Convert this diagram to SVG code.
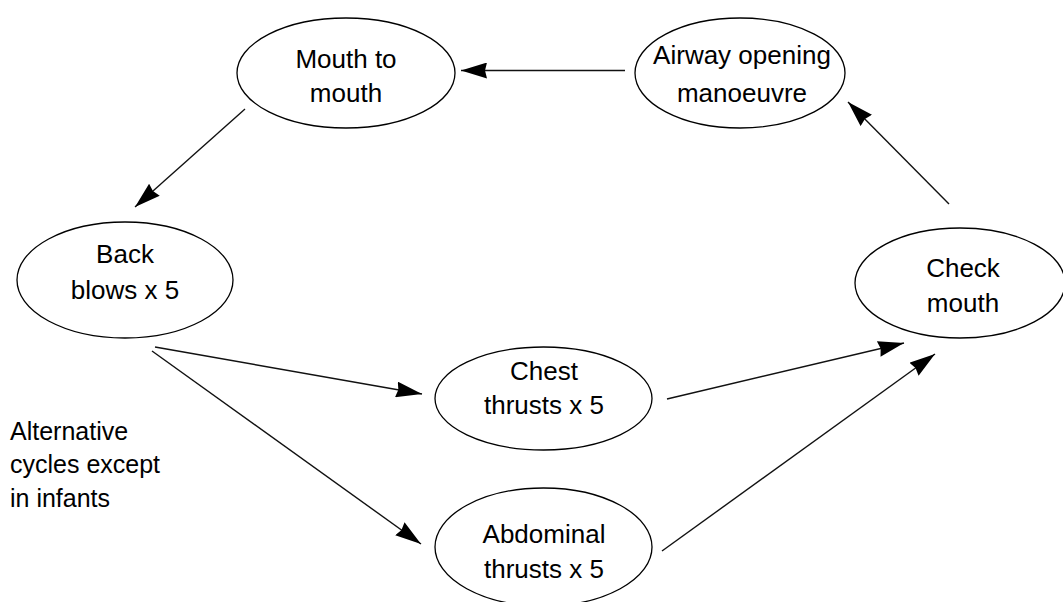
<svg xmlns="http://www.w3.org/2000/svg" width="1063" height="602" viewBox="0 0 1063 602">
  <style>
    .node ellipse { fill: #ffffff; stroke: #000000; stroke-width: 1.3; }
    .node text, .label { font-family: "Liberation Sans", Arial, Helvetica, sans-serif; font-size: 26px; fill: #000000; }
    .node text { text-anchor: middle; }
    .label { font-size: 25px; }
    .edge { stroke: #111111; stroke-width: 1.4; fill: none; marker-end: url(#arrow); }
  </style>
  <defs>
    <marker id="arrow" viewBox="0 0 26 16" refX="26" refY="8" markerWidth="26" markerHeight="16" markerUnits="userSpaceOnUse" orient="auto">
      <path d="M0,0 L26,8 L0,16 L2,8 z" fill="#000000"/>
    </marker>
  </defs>
  <rect width="1063" height="602" fill="#ffffff"/>

  <!-- connectors -->
  <g id="connectors">
    <line class="edge" x1="625" y1="70.5" x2="461" y2="70.5"/>
    <line class="edge" x1="245" y1="109" x2="135" y2="207"/>
    <line class="edge" x1="949" y1="204" x2="848" y2="102"/>
    <line class="edge" x1="155" y1="347" x2="422" y2="394"/>
    <line class="edge" x1="152" y1="351" x2="421" y2="544"/>
    <line class="edge" x1="667" y1="399" x2="904" y2="343"/>
    <line class="edge" x1="662" y1="551" x2="935" y2="354"/>
  </g>

  <!-- nodes -->
  <g id="mouth-to-mouth" class="node">
    <ellipse cx="346" cy="73" rx="109" ry="55"/>
    <text x="346" y="68">Mouth to</text>
    <text x="346" y="102">mouth</text>
  </g>
  <g id="airway-opening" class="node">
    <ellipse cx="740" cy="73" rx="105" ry="55"/>
    <text x="742" y="64">Airway opening</text>
    <text x="742" y="102">manoeuvre</text>
  </g>
  <g id="back-blows" class="node">
    <ellipse cx="125" cy="280" rx="108" ry="58"/>
    <text x="125" y="263">Back</text>
    <text x="125" y="299">blows x 5</text>
  </g>
  <g id="check-mouth" class="node">
    <ellipse cx="960" cy="283" rx="105" ry="55"/>
    <text x="963" y="277">Check</text>
    <text x="963" y="312">mouth</text>
  </g>
  <g id="chest-thrusts" class="node">
    <ellipse cx="543.5" cy="398.5" rx="108.5" ry="51.5"/>
    <text x="544" y="380">Chest</text>
    <text x="544" y="414">thrusts x 5</text>
  </g>
  <g id="abdominal-thrusts" class="node">
    <ellipse cx="543.5" cy="547" rx="108.5" ry="59"/>
    <text x="544" y="543">Abdominal</text>
    <text x="544" y="578">thrusts x 5</text>
  </g>

  <!-- free label -->
  <g id="note">
    <text class="label" x="10" y="440">Alternative</text>
    <text class="label" x="10" y="473">cycles except</text>
    <text class="label" x="10" y="507">in infants</text>
  </g>
</svg>
